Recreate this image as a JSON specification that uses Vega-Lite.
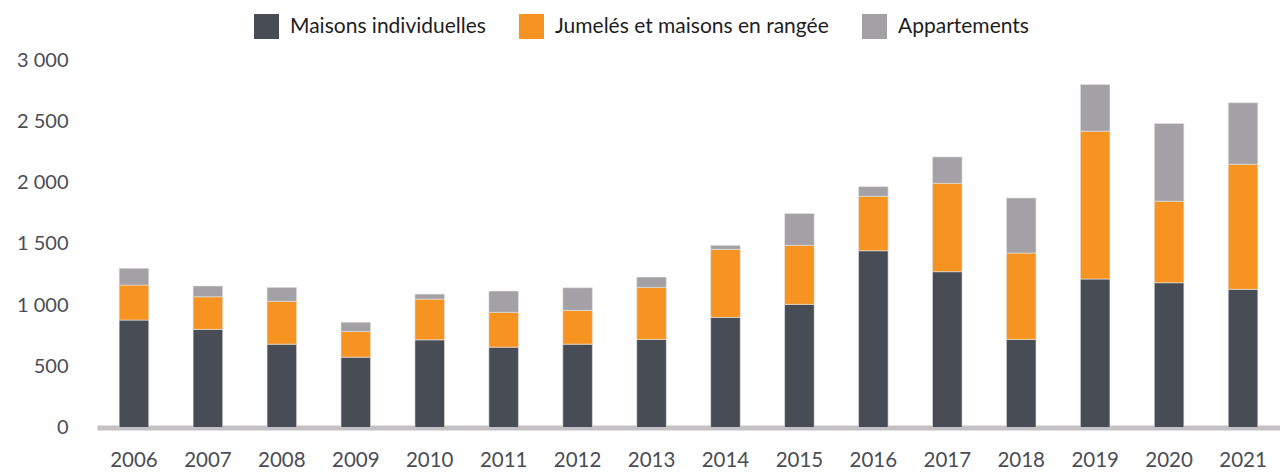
{
  "$schema": "https://vega.github.io/schema/vega-lite/v6.json",
  "width": 1183,
  "height": 367.5,
  "autosize": "none",
  "padding": {"left": 97, "top": 60, "right": 0, "bottom": 44.5},
  "background": "white",
  "config": {"view": {"stroke": null}, "font": "Lato"},
  "data": {
    "values": [
      {"year": "2006", "type": "Maisons individuelles", "value": 877},
      {"year": "2006", "type": "Jumelés et maisons en rangée", "value": 286},
      {"year": "2006", "type": "Appartements", "value": 136},
      {"year": "2007", "type": "Maisons individuelles", "value": 801},
      {"year": "2007", "type": "Jumelés et maisons en rangée", "value": 266},
      {"year": "2007", "type": "Appartements", "value": 88},
      {"year": "2008", "type": "Maisons individuelles", "value": 680},
      {"year": "2008", "type": "Jumelés et maisons en rangée", "value": 350},
      {"year": "2008", "type": "Appartements", "value": 114},
      {"year": "2009", "type": "Maisons individuelles", "value": 574},
      {"year": "2009", "type": "Jumelés et maisons en rangée", "value": 210},
      {"year": "2009", "type": "Appartements", "value": 76},
      {"year": "2010", "type": "Maisons individuelles", "value": 716},
      {"year": "2010", "type": "Jumelés et maisons en rangée", "value": 332},
      {"year": "2010", "type": "Appartements", "value": 41},
      {"year": "2011", "type": "Maisons individuelles", "value": 656},
      {"year": "2011", "type": "Jumelés et maisons en rangée", "value": 284},
      {"year": "2011", "type": "Appartements", "value": 174},
      {"year": "2012", "type": "Maisons individuelles", "value": 680},
      {"year": "2012", "type": "Jumelés et maisons en rangée", "value": 276},
      {"year": "2012", "type": "Appartements", "value": 185},
      {"year": "2013", "type": "Maisons individuelles", "value": 719},
      {"year": "2013", "type": "Jumelés et maisons en rangée", "value": 425},
      {"year": "2013", "type": "Appartements", "value": 84},
      {"year": "2014", "type": "Maisons individuelles", "value": 899},
      {"year": "2014", "type": "Jumelés et maisons en rangée", "value": 555},
      {"year": "2014", "type": "Appartements", "value": 33},
      {"year": "2015", "type": "Maisons individuelles", "value": 1005},
      {"year": "2015", "type": "Jumelés et maisons en rangée", "value": 482},
      {"year": "2015", "type": "Appartements", "value": 259},
      {"year": "2016", "type": "Maisons individuelles", "value": 1443},
      {"year": "2016", "type": "Jumelés et maisons en rangée", "value": 445},
      {"year": "2016", "type": "Appartements", "value": 78},
      {"year": "2017", "type": "Maisons individuelles", "value": 1272},
      {"year": "2017", "type": "Jumelés et maisons en rangée", "value": 722},
      {"year": "2017", "type": "Appartements", "value": 215},
      {"year": "2018", "type": "Maisons individuelles", "value": 719},
      {"year": "2018", "type": "Jumelés et maisons en rangée", "value": 705},
      {"year": "2018", "type": "Appartements", "value": 450},
      {"year": "2019", "type": "Maisons individuelles", "value": 1212},
      {"year": "2019", "type": "Jumelés et maisons en rangée", "value": 1207},
      {"year": "2019", "type": "Appartements", "value": 381},
      {"year": "2020", "type": "Maisons individuelles", "value": 1182},
      {"year": "2020", "type": "Jumelés et maisons en rangée", "value": 665},
      {"year": "2020", "type": "Appartements", "value": 635},
      {"year": "2021", "type": "Maisons individuelles", "value": 1128},
      {"year": "2021", "type": "Jumelés et maisons en rangée", "value": 1021},
      {"year": "2021", "type": "Appartements", "value": 502}
    ]
  },
  "mark": {"type": "bar", "stroke": "#e4e4e6", "strokeWidth": 0.6},
  "encoding": {
    "x": {
      "field": "year",
      "type": "ordinal",
      "scale": {"paddingInner": 0.6, "paddingOuter": 0.3},
      "axis": {
        "title": null,
        "labelAngle": 0,
        "ticks": false,
        "domainColor": "#c3c1c6",
        "domainWidth": 5,
        "labelFontSize": 20.5,
        "labelColor": "#4a4d55",
        "labelPadding": 23
      }
    },
    "y": {
      "field": "value",
      "type": "quantitative",
      "stack": "zero",
      "scale": {"domain": [0, 3000]},
      "axis": {
        "title": null,
        "values": [0, 500, 1000, 1500, 2000, 2500, 3000],
        "grid": false,
        "domain": false,
        "ticks": false,
        "labelFontSize": 20,
        "labelColor": "#4a4d55",
        "labelPadding": 29,
        "labelExpr": "replace(format(datum.value, ','), ',', ' ')"
      }
    },
    "color": {
      "field": "type",
      "type": "nominal",
      "sort": ["Maisons individuelles", "Jumelés et maisons en rangée", "Appartements"],
      "scale": {
        "domain": ["Maisons individuelles", "Jumelés et maisons en rangée", "Appartements"],
        "range": ["#484c55", "#f79421", "#a3a1a6"]
      },
      "legend": {
        "title": null,
        "orient": "none",
        "legendX": 157,
        "legendY": -46,
        "direction": "horizontal",
        "symbolType": "square",
        "symbolSize": 625,
        "symbolStrokeWidth": 0,
        "symbolOpacity": 1,
        "labelFontSize": 21,
        "labelColor": "#1e1e1e",
        "labelOffset": 11,
        "labelLimit": 400,
        "columnPadding": 33
      }
    }
  }
}
